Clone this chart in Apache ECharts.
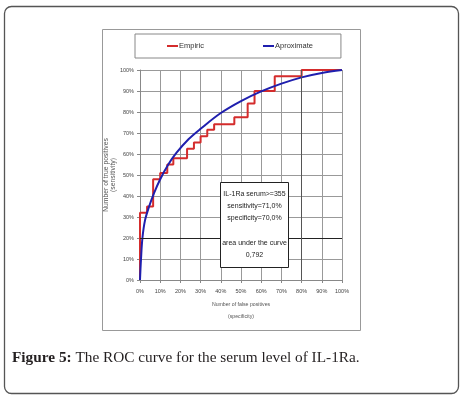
<!DOCTYPE html>
<html>
<head>
<meta charset="utf-8">
<script src="https://cdn.jsdelivr.net/npm/echarts@6/dist/echarts.min.js"></script>
<style>
html, body { margin: 0; padding: 0; background: #fff; }
#chart { width: 463px; height: 399px; }
</style>
</head>
<body>
<div id="chart"></div>
<script>
// empirical ROC: each point is where a riser ends (step: 'end')
var empiricFpr = [0, 0, 3.5, 6.5, 10, 13.5, 16.5, 23.3, 26.7, 30, 33.3, 36.7, 46.7, 53.3, 56.7, 66.7, 80, 100];
var empiricTpr = [0, 32, 35, 48, 51, 55, 58, 62.5, 65.5, 68.5, 71.5, 74.2, 77.5, 84, 90, 97, 100, 100];
// fitted (aproximate) curve
var approxFpr = [0, 0.5, 1.2, 2.5, 4.5, 7, 10, 14, 18, 24, 30, 40, 50, 60, 70, 80, 90, 100];
var approxTpr = [0, 10, 20, 28.5, 35, 41.5, 48, 55, 60.5, 67, 72, 79.5, 85.2, 89.8, 93.5, 96.5, 98.6, 100];
var seriesNames = ['Empiric', 'Aproximate'];
var noteLines = ['IL-1Ra serum>=355', 'sensitivity=71,0%', 'specificity=70,0%', '', 'area under the curve', '0,792'];
var captionBold = 'Figure 5:';
var captionText = ' The ROC curve for the serum level of IL-1Ra.';

var sans = "'Liberation Sans', Arial, sans-serif";
var serif = "'Liberation Serif', 'DejaVu Serif', serif";

function pairs(xs, ys) {
    var out = [];
    for (var i = 0; i < xs.length; i++) {
        out.push([xs[i], ys[i]]);
    }
    return out;
}

var chart = echarts.init(document.getElementById('chart'));

function pctAxis(name, gap, rotate, nameSize, nameLine, labelMargin) {
    return {
        type: 'value',
        min: 0,
        max: 100,
        interval: 10,
        name: name,
        nameLocation: 'middle',
        nameGap: gap,
        nameRotate: rotate,
        nameMoveOverlap: false,
        nameTextStyle: {fontFamily: sans, fontSize: nameSize, color: '#555', lineHeight: nameLine},
        axisLine: {lineStyle: {color: '#888'}},
        axisTick: {show: true, length: 3, lineStyle: {color: '#888'}},
        axisLabel: {formatter: '{value}%', fontFamily: sans, fontSize: 5.5, color: '#444', margin: labelMargin},
        splitLine: {lineStyle: {color: '#999'}}
    };
}

chart.setOption({
    backgroundColor: '#fff',
    animation: false,
    grid: {left: 140, top: 70, width: 202, height: 210},
    legend: {
        data: seriesNames,
        left: 135,
        top: 34,
        padding: [8, 28, 8, 32],
        itemGap: 59,
        itemWidth: 11,
        itemHeight: 2,
        icon: 'rect',
        borderColor: '#888',
        borderWidth: 1,
        textStyle: {fontFamily: sans, fontSize: 7.5, color: '#333', padding: [0, 0, 0, -4]}
    },
    xAxis: pctAxis('Number of false positives\n(specificity)', 19, 0, 5.2, 12, 8),
    yAxis: pctAxis('Number of true positives\n(sensitivity)', 23, 90, 6.8, 7, 6),
    series: [{
        name: seriesNames[0],
        type: 'line',
        step: 'end',
        showSymbol: false,
        color: '#d42c2c',
        lineStyle: {width: 2, color: '#d42c2c'},
        data: pairs(empiricFpr, empiricTpr),
        markLine: {
            silent: true,
            symbol: 'none',
            label: {show: false},
            data: [
                {yAxis: 20, lineStyle: {color: '#222', width: 1, type: 'solid'}},
                {xAxis: 80, lineStyle: {color: '#555', width: 1, type: 'solid'}}
            ]
        }
    }, {
        name: seriesNames[1],
        type: 'line',
        smooth: 0.35,
        showSymbol: false,
        color: '#1f1fae',
        lineStyle: {width: 2, color: '#1f1fae'},
        data: pairs(approxFpr, approxTpr)
    }],
    graphic: [{
        type: 'rect',
        shape: {x: 4.5, y: 6.5, width: 454, height: 387, r: 7},
        style: {fill: 'none', stroke: '#555', lineWidth: 1.3}
    }, {
        type: 'rect',
        shape: {x: 102.5, y: 29.5, width: 258, height: 301},
        style: {fill: 'none', stroke: '#999', lineWidth: 1}
    }, {
        type: 'rect',
        z: 100,
        shape: {x: 220.5, y: 182.5, width: 68, height: 85},
        style: {fill: '#fff', stroke: '#222', lineWidth: 1}
    }, {
        type: 'text',
        z: 101,
        x: 254.5,
        y: 188,
        style: {
            text: noteLines.join('\n'),
            fontFamily: sans,
            fontSize: 7,
            lineHeight: 12.2,
            fill: '#222',
            align: 'center',
            verticalAlign: 'top'
        }
    }, {
        type: 'text',
        x: 12,
        y: 358,
        style: {
            text: '{b|' + captionBold + '}' + captionText,
            rich: {b: {fontWeight: 'bold', fontFamily: serif, fontSize: 15.3, fill: '#231f20'}},
            fontFamily: serif,
            fontSize: 15.3,
            fill: '#231f20',
            verticalAlign: 'middle'
        }
    }]
});
</script>
</body>
</html>
